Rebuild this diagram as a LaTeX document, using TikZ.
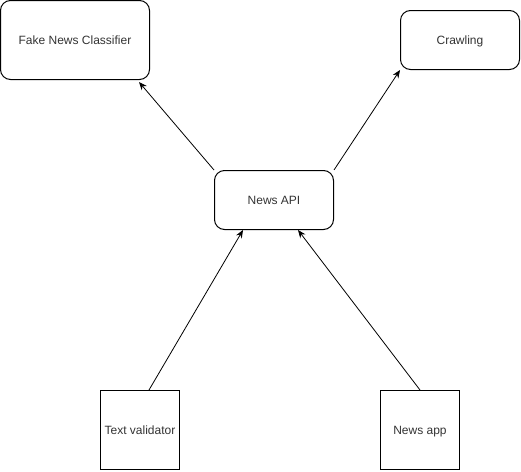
\documentclass[tikz,border=0pt]{standalone}
\usepackage{fontspec}
\setmainfont{Liberation Sans}
\usetikzlibrary{arrows.meta}
\begin{document}
\begin{tikzpicture}[x=1pt,y=-1pt,
  lbl/.style={inner sep=0pt,font=\fontsize{12}{14}\selectfont,text=black!80,text height=10pt,text depth=0.5pt},
  box/.style={lbl,draw=black,line width=1pt,rounded corners=10pt},
  sq/.style={lbl,draw=black,line width=1pt},
  arr/.style={line width=0.8pt,-{Stealth[length=8pt,width=6.5pt]}}]
\useasboundingbox (0,0) rectangle (521,471);
\node[box,minimum width=149pt,minimum height=79pt] (fnc) at (75,40) {Fake News Classifier};
\node[box,minimum width=119pt,minimum height=59pt] (crawl) at (460,40) {Crawling};
\node[box,minimum width=119pt,minimum height=59pt] (api) at (274,200) {News API};
\node[sq,minimum width=79pt,minimum height=79pt] (tv) at (140,430) {Text validator};
\node[sq,minimum width=79pt,minimum height=79pt] (na) at (420,430) {News app};
\draw[arr] (api.north west) -- ([xshift=-11pt,yshift=-2pt]fnc.south east);
\draw[arr] (api.north east) -- (crawl.south west);
\draw[arr] ([xshift=9pt]tv.north) -- ([xshift=29pt]api.south west);
\draw[arr] (na.north) -- ([xshift=-36pt]api.south east);
\end{tikzpicture}
\end{document}
